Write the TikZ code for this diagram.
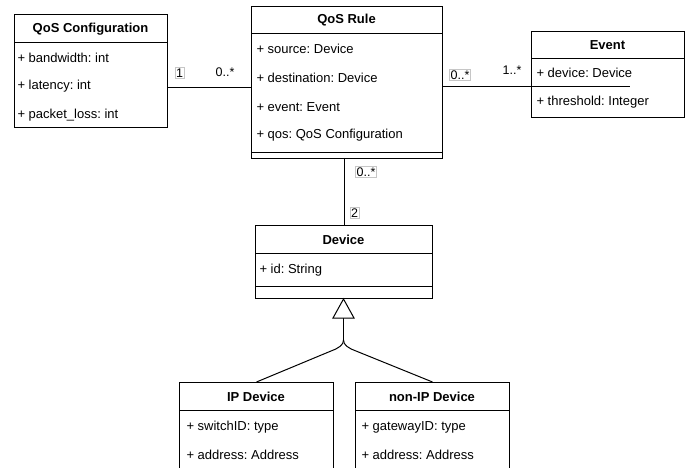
\documentclass[tikz,border=0pt]{standalone}
\usepackage{fontspec}
\setmainfont{Liberation Sans}
\frenchspacing
\begin{document}
\begin{tikzpicture}[x=1pt,y=-1pt, line width=1pt,
  umlbox/.style={draw, fill=white, inner sep=0, anchor=north west},
  title/.style={font=\fontsize{13}{15}\selectfont\bfseries\frenchspacing, inner sep=0},
  attr/.style={font=\fontsize{13}{15}\selectfont\frenchspacing, anchor=west, inner sep=0},
  mult/.style={font=\fontsize{12.5}{15}\selectfont, inner sep=1pt},
  multbox/.style={mult, draw=gray!45, line width=0.5pt}]
\useasboundingbox (0,0) rectangle (688,468);
\coordinate (y88) at (0,88);
\coordinate (y87) at (0,87);
% QoS Configuration
\node[umlbox, minimum width=153pt, minimum height=113pt] (cfg) at (14,14) {};
\draw (14,43) -- (167,43);
\node[title] (cfgt) at (90.5,29) {QoS Configuration};
\node[attr] (cfga1) at (17,58) {+ bandwidth: int};
\node[attr] (cfga2) at (17,86) {+ latency: int};
\node[attr] (cfga3) at (17,115) {+ packet\_loss: int};
% QoS Rule
\node[umlbox, minimum width=191pt, minimum height=152pt] (rule) at (251,6) {};
\draw (251,34) -- (442,34);
\draw (251,153) -- (442,153);
\node[title] (rulet) at (346.5,20) {QoS Rule};
\node[attr] (rulea1) at (256,49) {+ source: Device};
\node[attr] (rulea2) at (256,78) {+ destination: Device};
\node[attr] (rulea3) at (256,107) {+ event: Event};
\node[attr] (rulea4) at (256,135) {+ qos: QoS Configuration};
% Event
\node[umlbox, minimum width=153pt, minimum height=86pt] (event) at (531,31) {};
\draw (531,59) -- (684,59);
\node[title] (eventt) at (607.5,45) {Event};
\node[attr] (eventa1) at (536,73) {+ device: Device};
\node[attr] (eventa2) at (536,102) {+ threshold: Integer};
% Device
\node[umlbox, minimum width=177pt, minimum height=73pt] (device) at (255,225) {};
\draw (255,253) -- (432,253);
\draw (255,286) -- (432,286);
\node[title] (devicet) at (343.5,240) {Device};
\node[attr] (devicea1) at (259,270) {+ id: String};
% IP Device
\node[umlbox, minimum width=154pt, minimum height=98pt] (ip) at (179,382) {};
\draw (179,410) -- (333,410);
\node[title] (ipt) at (256,397) {IP Device};
\node[attr] (ipa1) at (186,427) {+ switchID: type};
\node[attr] (ipa2) at (186,455) {+ address: Address};
% non-IP Device
\node[umlbox, minimum width=154pt, minimum height=98pt] (nonip) at (355,382) {};
\draw (355,410) -- (509,410);
\node[title] (nonipt) at (432,397) {non-IP Device};
\node[attr] (nonipa1) at (361,427) {+ gatewayID: type};
\node[attr] (nonipa2) at (361,455) {+ address: Address};
% connectors
\draw (cfg.east |- y88) -- (rule.west |- y88);
\coordinate (evend) at (630,87);
\draw (rule.east |- y87) -- (evend);
\draw (344,158) -- (344,225);
% generalization
\coordinate (tip) at (343.5,299);
\coordinate (fork) at (343.5,340);
\draw (tip) -- (fork);
\draw[fill=white] (tip) -- (333,318) -- (354,318) -- cycle;
\draw (fork) .. controls (343.5,345) and (339,348) .. (331,351) -- (ip.north);
\draw (fork) .. controls (343.5,345) and (348,348) .. (356,351) -- (nonip.north);
% multiplicities
\node[multbox] (m1) at (179.5,73) {1};
\node[mult] (m2) at (225,72) {0..*};
\node[multbox] (m3) at (460,75) {0..*};
\node[mult] (m4) at (512,70) {1..*};
\node[multbox] (m5) at (366,172) {0..*};
\node[multbox] (m6) at (354.5,213) {2};
\end{tikzpicture}
\end{document}
